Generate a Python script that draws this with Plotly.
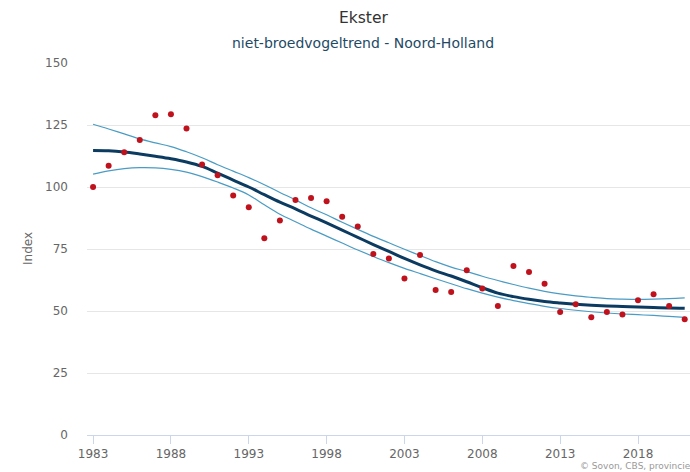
import plotly.graph_objects as go

years = list(range(1983, 2022))

index_values = [100.0, 108.6, 114.0, 119.0, 128.9, 129.3, 123.6, 109.1, 104.7, 96.6,
                91.8, 79.3, 86.5, 94.8, 95.6, 94.3, 88.0, 84.1, 73.0, 71.2,
                63.1, 72.6, 58.5, 57.7, 66.4, 59.1, 52.0, 68.1, 65.7, 61.0,
                49.6, 52.7, 47.5, 49.6, 48.6, 54.3, 56.8, 52.0, 46.7]

trend = [114.7, 114.6, 114.1, 113.3, 112.4, 111.4, 110.1, 108.3, 105.6, 102.8,
         100.0, 96.9, 93.9, 91.2, 88.3, 85.5, 82.6, 79.7, 76.8, 74.0,
         71.2, 68.6, 66.2, 64.1, 61.8, 59.4, 57.2, 55.8, 54.7, 53.8,
         53.2, 52.7, 52.3, 52.0, 51.8, 51.6, 51.4, 51.2, 51.1]

upper = [125.3, 123.4, 121.4, 119.4, 117.8, 116.3, 114.2, 111.8, 109.0, 106.4,
         103.8, 100.9, 97.8, 94.8, 91.6, 88.8, 85.8, 82.9, 80.1, 77.5,
         74.9, 72.4, 69.9, 67.7, 65.9, 64.0, 62.3, 60.7, 59.2, 57.9,
         56.9, 56.1, 55.5, 55.0, 54.8, 54.7, 54.8, 55.0, 55.3]

lower = [105.2, 106.5, 107.4, 107.8, 107.7, 107.1, 106.0, 104.2, 102.0, 99.6,
         96.8, 92.8, 89.0, 86.0, 83.0, 80.2, 77.4, 74.6, 72.0, 69.5,
         67.2, 65.1, 63.0, 61.0, 59.0, 57.2, 55.6, 54.2, 53.0, 51.9,
         51.0, 50.3, 49.7, 49.2, 48.8, 48.5, 48.2, 47.8, 47.4]

x_ticks = [1983, 1988, 1993, 1998, 2003, 2008, 2013, 2018]
y_ticks = [0, 25, 50, 75, 100, 125, 150]

FONT = "DejaVu Sans"

# plot area on screen: x 87..690, y 63..435
PL, PR, PT, PB = 87, 690, 63, 435
PW, PH = PR - PL, PB - PT

def px(x):
    return (x - PL) / PW

def py(y):
    return (PB - y) / PH

fig = go.Figure()
fig.add_trace(go.Scatter(x=years, y=upper, mode="lines",
                         line=dict(color="#4a9cc4", width=1.2, shape="spline"),
                         hoverinfo="skip", showlegend=False))
fig.add_trace(go.Scatter(x=years, y=lower, mode="lines",
                         line=dict(color="#4a9cc4", width=1.2, shape="spline"),
                         hoverinfo="skip", showlegend=False))
fig.add_trace(go.Scatter(x=years, y=trend, mode="lines",
                         line=dict(color="#0b3b60", width=3, shape="spline"),
                         showlegend=False))
fig.add_trace(go.Scatter(x=years, y=index_values, mode="markers",
                         marker=dict(color="#c0121c", size=6),
                         showlegend=False))

fig.update_layout(
    width=690, height=472,
    margin=dict(l=PL, r=0, t=PT, b=472 - PB),
    paper_bgcolor="white", plot_bgcolor="white",
    font=dict(family=FONT, size=12, color="#666666"),
    showlegend=False,
    xaxis=dict(range=[1982.61, 2021.34], tickvals=x_ticks,
               ticktext=[str(v) for v in x_ticks],
               showgrid=False, zeroline=False,
               showline=True, linecolor="#ccd6eb", linewidth=1,
               ticks="outside", ticklen=8, tickcolor="#ccd6eb",
               tickfont=dict(family=FONT, size=12, color="#666666")),
    yaxis=dict(range=[0, 150], tickvals=y_ticks,
               showgrid=True, gridcolor="#e6e6e6", gridwidth=1,
               zeroline=False, showline=False, ticks="",
               ticklabelstandoff=18,
               tickfont=dict(family=FONT, size=12, color="#666666")),
    annotations=[
        dict(text="Ekster", xref="paper", yref="paper",
             x=px(363), y=py(18), showarrow=False,
             xanchor="center", yanchor="middle",
             font=dict(family=FONT, size=15.5, color="#333333")),
        dict(text="niet-broedvogeltrend - Noord-Holland", xref="paper", yref="paper",
             x=px(363), y=py(43), showarrow=False,
             xanchor="center", yanchor="middle",
             font=dict(family=FONT, size=14, color="#1e4a66")),
        dict(text="Index", xref="paper", yref="paper",
             x=px(28), y=0.5, showarrow=False, textangle=-90,
             xanchor="center", yanchor="middle",
             font=dict(family=FONT, size=12, color="#666666")),
        dict(text="© Sovon, CBS, provincies", xref="paper", yref="paper",
             x=px(578), y=py(466), showarrow=False,
             xanchor="left", yanchor="middle",
             font=dict(family=FONT, size=9, color="#999999")),
    ],
)

fig.write_html(
    "out.html",
    config={"displayModeBar": False},
    post_script="document.body.style.margin='0';document.body.style.overflow='hidden';",
)
